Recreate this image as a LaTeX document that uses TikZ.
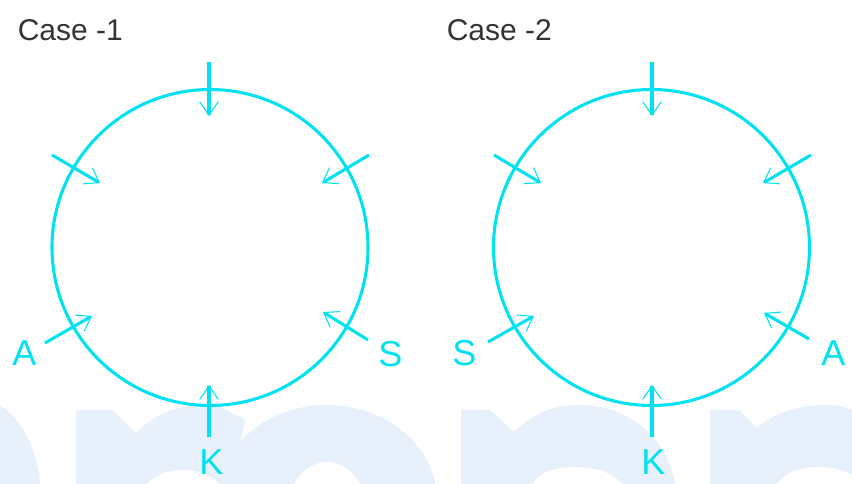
\documentclass[tikz,border=0pt]{standalone}
\usepackage{fontspec}
\setmainfont{Liberation Sans}
\usetikzlibrary{arrows.meta}
\definecolor{cy}{RGB}{0,226,242}
\definecolor{wm}{RGB}{232,240,252}
\definecolor{dk}{RGB}{51,51,51}
\begin{document}
\begin{tikzpicture}[x=0.75pt,y=-0.75pt,
  ring/.style={draw=cy,line width=2.3pt,circle,inner sep=0pt,minimum size=237pt},
  ptr/.style={draw=cy,line width=2.3pt,-{Straight Barb[length=10pt,width=14pt,line width=0.8pt]}},
  lbl/.style={text=cy,font=\fontsize{27}{27}\selectfont,inner sep=0pt,anchor=base west},
  ttl/.style={text=dk,font=\fontsize{22.5}{22.5}\selectfont,inner sep=0pt,anchor=base west},
  wmark/.style={fill=wm,draw=none},
  wgap/.style={fill=white,draw=none}]
\useasboundingbox (0,0) rectangle (852,484);
% faint background shapes
\begin{scope}
\clip (0,0) rectangle (852,484);
\path[wmark] (0,405) .. controls (22,420) and (38,450) .. (40,484) -- (0,484) -- cycle;
\path[wmark] (76,484) -- (76,410) -- (112,410) -- (136,433) .. controls (156,412) and (185,403) .. (215,404) -- (245,420) -- (232,484) -- cycle;
\path[wmark] (327,500) ellipse [x radius=110, y radius=95];
\path[wmark] (461,484) -- (461,410) -- (490,410) -- (514,432) .. controls (535,412) and (555,405) .. (580,405) .. controls (630,405) and (668,440) .. (675,484) -- cycle;
\path[wmark] (710,484) -- (710,410) -- (739,410) -- (757,428) .. controls (775,412) and (800,405) .. (825,405) .. controls (840,405) and (850,408) .. (852,410) -- (852,484) -- cycle;
\path[wgap] (147,484) .. controls (155,474) and (170,470) .. (185,470) .. controls (200,470) and (212,476) .. (219,484) -- cycle;
\path[wgap] (327,512) ellipse [x radius=40, y radius=50];
\path[wgap] (532,484) .. controls (540,472) and (555,467) .. (575,467) .. controls (600,467) and (615,475) .. (622,484) -- cycle;
\path[wgap] (777,484) .. controls (785,472) and (800,467) .. (820,467) .. controls (835,467) and (848,472) .. (852,476) -- (852,484) -- cycle;
\end{scope}
% titles
\node[ttl] (title1) at (17.5,41) {Case -1};
\node[ttl] (title2) at (446.5,41) {Case -2};
% circles
\node[ring] (c1) at (210,247.5) {};
\node[ring] (c2) at (651.5,247.5) {};
% case 1 arrows
\coordinate (t1s) at (209,62);  \coordinate (t1e) at (209,116);
\coordinate (ul1s) at (52,155); \coordinate (ul1e) at (100,183);
\coordinate (ur1s) at (369,155); \coordinate (ur1e) at (322,183);
\coordinate (a1s) at (45,343);  \coordinate (a1e) at (92,316);
\coordinate (s1s) at (368,340); \coordinate (s1e) at (323,312);
\coordinate (k1s) at (209,437); \coordinate (k1e) at (209,385);
\draw[ptr] (t1s) -- (t1e);
\draw[ptr] (ul1s) -- (ul1e);
\draw[ptr] (ur1s) -- (ur1e);
\draw[ptr] (a1s) -- (a1e);
\draw[ptr] (s1s) -- (s1e);
\draw[ptr] (k1s) -- (k1e);
% case 2 arrows
\coordinate (t2s) at (652,62);  \coordinate (t2e) at (652,116);
\coordinate (ul2s) at (494,155); \coordinate (ul2e) at (541,183);
\coordinate (ur2s) at (811,155); \coordinate (ur2e) at (763,183);
\coordinate (s2s) at (488,342); \coordinate (s2e) at (534,316);
\coordinate (a2s) at (809,339); \coordinate (a2e) at (764,313);
\coordinate (k2s) at (652,437); \coordinate (k2e) at (652,385);
\draw[ptr] (t2s) -- (t2e);
\draw[ptr] (ul2s) -- (ul2e);
\draw[ptr] (ur2s) -- (ur2e);
\draw[ptr] (s2s) -- (s2e);
\draw[ptr] (a2s) -- (a2e);
\draw[ptr] (k2s) -- (k2e);
% labels
\node[lbl] (la1) at (12,365) {A};
\node[lbl] (ls1) at (378,366) {S};
\node[lbl] (lk1) at (199,474) {K};
\node[lbl] (ls2) at (452,365) {S};
\node[lbl] (la2) at (821,365) {A};
\node[lbl] (lk2) at (641,474) {K};
\end{tikzpicture}
\end{document}
